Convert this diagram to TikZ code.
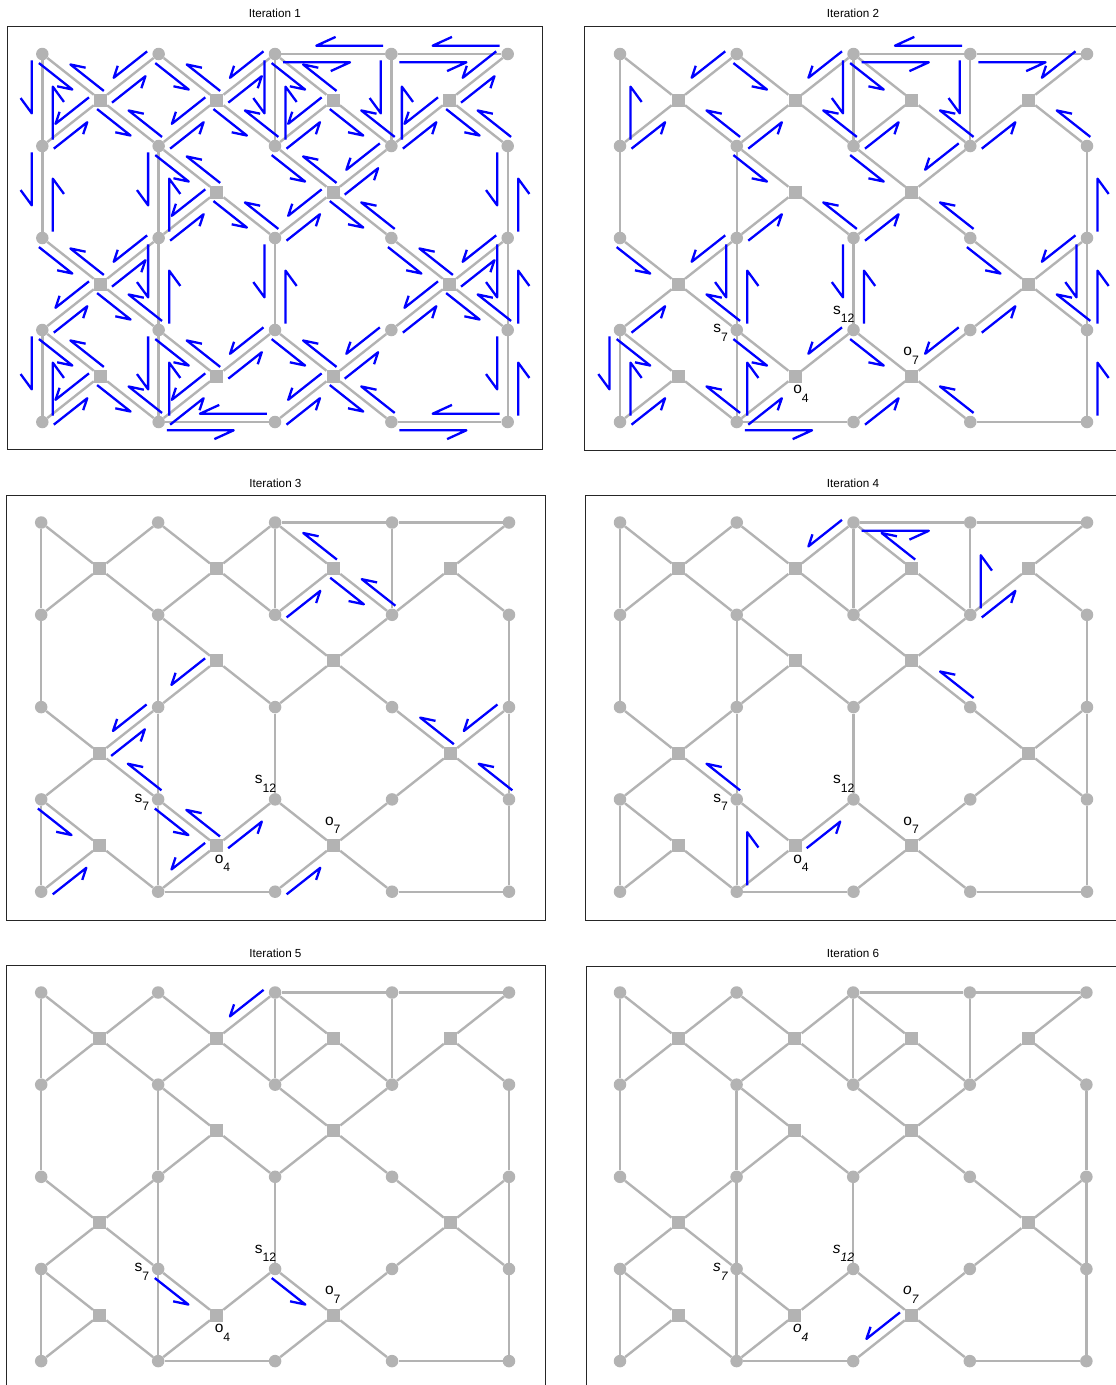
\documentclass[tikz,border=0pt]{standalone}
\usepackage{fontspec}
\setmainfont{Liberation Sans}
\usetikzlibrary{calc}
\definecolor{eg}{RGB}{179,179,179}
\definecolor{fr}{RGB}{38,38,38}
\tikzset{
  vnode/.style={circle, fill=eg, inner sep=0pt, minimum size=12.5pt},
  fnode/.style={rectangle, fill=eg, inner sep=0pt, minimum size=13pt},
  gedge/.style={draw=eg, line width=2.4pt},
  harp/.style={draw=blue, line width=2.3pt, line join=round},
  pframe/.style={draw=fr, line width=1pt},
  ttl/.style={font=\fontsize{11.7}{14}\selectfont, anchor=base, inner sep=0pt},
  lab/.style={font=\fontsize{15.5}{18}\selectfont, anchor=base west, inner sep=0pt},
}
\newcommand\lsub[1]{\raisebox{-8.6pt}{\fontsize{12.2}{13}\selectfont #1}}
\def\elist{f00/v00,f00/v10,f00/v01,f00/v11,f10/v10,f10/v20,f10/v11,f10/v21,f20/v20,f20/v21,f20/v31,f30/v40,f30/v31,f30/v41,f11/v11,f11/v12,f11/v22,f21/v21,f21/v31,f21/v22,f21/v32,f02/v02,f02/v12,f02/v03,f02/v13,f32/v32,f32/v42,f32/v33,f32/v43,f03/v03,f03/v04,f03/v14,f13/v13,f13/v23,f13/v14,f23/v23,f23/v33,f23/v24,f23/v34,v00/v01,v01/v02,v03/v04,v11/v12,v12/v13,v13/v14,v20/v21,v22/v23,v30/v31,v41/v42,v42/v43,v43/v44,v20/v30,v30/v40,v14/v24,v34/v44}
% #1 id, #2 x0, #3 y0, #4 Sx, #5 Sy
\newcommand\panel[5]{%
  \foreach \c in {0,...,4}{\foreach \r in {0,...,4}{
    \node[vnode] (p#1v\c\r) at ({#2+\c*#4},{#3+\r*#5}) {};}}
  \foreach \c/\r in {0/0,1/0,2/0,3/0,1/1,2/1,0/2,3/2,0/3,1/3,2/3}{
    \node[fnode] (p#1f\c\r) at ({#2+(\c+0.5)*#4},{#3+(\r+0.5)*#5}) {};}
  \foreach \a/\b in \elist {\draw[gedge] (p#1\a) -- (p#1\b);}
}
% message harpoon: #1 panel, #2 from, #3 to
\newcommand\msg[3]{%
  \draw[harp] let \p1=(p#1#2), \p2=(p#1#3),
    \n1={(\x2-\x1)/116.75}, \n2={(\y2-\y1)/92.1},
    \n3={veclen(\n1,\n2)},
    \n4={0.09*\n2/\n3*116.75}, \n5={-0.09*\n1/\n3*92.1},
    \n6={0.1917*(0.5*\n2-0.866*\n1)*116.75}, \n7={-0.1917*(0.866*\n2+0.5*\n1)*92.1}
  in ({\x1+0.07*(\x2-\x1)+\n4*1pt},{\y1+0.07*(\y2-\y1)+\n5*1pt})
  -- ({\x1+0.645*(\x2-\x1)+\n4*1pt},{\y1+0.645*(\y2-\y1)+\n5*1pt})
  -- ++({\n6*1pt},{\n7*1pt});
}
\newcommand\panellabels[2]{%
  \node[lab] (p#1ls7) at ($(p#1v13)+(-23.7,2.8)$) {#2s\lsub{7}};
  \node[lab] (p#1ls12) at ($(p#1v23)+(-20.5,-15.8)$) {#2s\lsub{12}};
  \node[lab] (p#1lo4) at ($(p#1f13)+(-2,17.5)$) {#2o\lsub{4}};
  \node[lab] (p#1lo7) at ($(p#1f23)+(-8.7,-20.5)$) {#2o\lsub{7}};
}
\begin{document}
\begin{tikzpicture}[x=1pt,y=-1pt]
\useasboundingbox (0,0) rectangle (1116,1385);
\clip (0,0) rectangle (1116,1385);
\fill[white] (0,0) rectangle (1116,1385);
% frames
\draw[pframe] (7.3,26.7) rectangle (542.8,449);
\draw[pframe] (584.7,26.5) rectangle (1125,450.5);
\draw[pframe] (6,495.7) rectangle (545,920);
\draw[pframe] (585,495.7) rectangle (1125,920);
\draw[pframe] (6,965) rectangle (545,1400);
\draw[pframe] (586,966) rectangle (1125,1400);
% titles
\node[ttl] (t1) at (274.8,17.7) {Iteration 1};
\node[ttl] (t2) at (853,17.7) {Iteration 2};
\node[ttl] (t3) at (275.5,487.3) {Iteration 3};
\node[ttl] (t4) at (853,487.3) {Iteration 4};
\node[ttl] (t5) at (275.5,957) {Iteration 5};
\node[ttl] (t6) at (853,957) {Iteration 6};
% graphs
\panel{1}{42.3}{54}{116.35}{92}
\panel{2}{620}{54}{116.75}{92}
\panel{3}{41.2}{522.5}{116.95}{92.3}
\panel{4}{620}{522.5}{116.75}{92.3}
\panel{5}{41.2}{992.5}{116.95}{92.15}
\panel{6}{620}{992.5}{116.6}{92.15}
% labels
\panellabels{2}{}
\panellabels{3}{}
\panellabels{4}{}
\panellabels{5}{}
\panellabels{6}{\itshape}
% messages
\foreach \a/\b in \elist {\msg{1}{\a}{\b}\msg{1}{\b}{\a}}
\foreach \a/\b in {v01/v00,v01/f00,v10/f00,v10/f10,v11/f00,v11/f10,v20/f10,v20/v21,v21/f10,v11/f11,v22/f11,v12/f11,v02/f02,v12/f02,v12/v13,v13/v12,v13/f02,v22/v23,v03/f02,v23/f13,v03/v04,v04/v03,v03/f03,v04/f03,v13/f13,v14/v13,v14/f03,v14/f13,v14/v24,v30/v20,v20/v30,v30/v40,v40/f30,v30/v31,v20/f20,v21/f20,v31/f20,v31/f30,v41/f30,v31/f21,v21/f21,v22/f21,v32/f21,v42/v41,v32/f32,v42/f32,v42/v43,v43/f32,v43/v42,v33/f32,v23/v22,v23/f23,v33/f23,v24/f23,v34/f23,v44/v43} {\msg{2}{\a}{\b}}
\foreach \a/\b in {f20/v20,v31/f20,f20/v31,v21/f20,f11/v12,v12/f02,f02/v12,v13/f02,f32/v32,v42/f32,v43/f32,v03/f03,v04/f03,v13/f13,f13/v13,f13/v14,f13/v23,v24/f23} {\msg{3}{\a}{\b}}
\foreach \a/\b in {v20/f10,v20/v30,f20/v20,v31/v30,v31/f30,v32/f21,v13/f02,v14/v13,f13/v23} {\msg{4}{\a}{\b}}
\foreach \a/\b in {v20/f10,v13/f13,v23/f23} {\msg{5}{\a}{\b}}
\msg{6}{f23}{v24}
\end{tikzpicture}
\end{document}
